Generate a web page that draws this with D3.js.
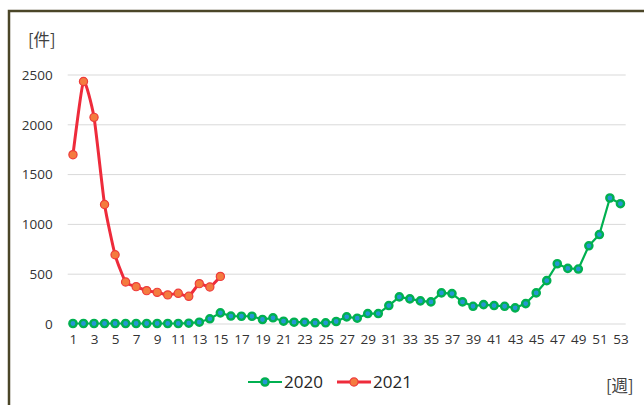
<!DOCTYPE html>
<html>
<head>
<meta charset="utf-8">
<script src="https://cdn.jsdelivr.net/npm/d3@7"></script>
<style>
  html, body { margin: 0; padding: 0; background: #fff; }
  svg { display: block; }
  text { font-family: "Open Sans", "Noto Sans CJK JP", sans-serif; }
</style>
</head>
<body>
<svg id="chart" width="644" height="405"></svg>
<script>
// Weekly case counts
const weeks = d3.range(1, 54);
const weekTicks = weeks.filter(w => w % 2 === 1);
const yTicks = [0, 500, 1000, 1500, 2000, 2500];

const cases2020 = [
  5, 5, 5, 5, 5, 5, 5, 5, 5, 5,
  5, 8, 18, 52, 112, 80, 78, 78, 45, 62,
  28, 18, 18, 12, 12, 25, 72, 58, 105, 105,
  185, 272, 252, 232, 222, 312, 305, 222, 178, 195,
  185, 178, 162, 205, 312, 435, 605, 558, 552, 785,
  898, 1265, 1208
];
const cases2021 = [
  1700, 2435, 2075, 1200, 695, 422, 375, 335, 318, 292,
  308, 278, 405, 372, 478
];

const seriesNames = ["2020", "2021"];
const yUnit = "[件]";
const xUnit = "[週]";

const svg = d3.select("#chart");
const W = 644, H = 405;

// outer frame (top and left edges visible)
svg.append("path")
  .attr("d", `M9,${H} V11 H${W}`)
  .attr("fill", "none")
  .attr("stroke", "#4b4628")
  .attr("stroke-width", 2.5);

const plot = { left: 67.7, right: 625.7, top: 75, bottom: 324 };

const x = d3.scalePoint()
  .domain(weeks)
  .range([plot.left, plot.right])
  .padding(0.5);

const y = d3.scaleLinear()
  .domain([0, 2500])
  .range([plot.bottom, plot.top]);

// gridlines
svg.append("g")
  .selectAll("line")
  .data(yTicks)
  .join("line")
  .attr("x1", plot.left)
  .attr("x2", plot.right)
  .attr("y1", d => y(d))
  .attr("y2", d => y(d))
  .attr("stroke", "#d9d9d9")
  .attr("stroke-width", 1);

// y axis labels
const yAxis = svg.append("g")
  .attr("transform", `translate(${plot.left - 15},0)`)
  .call(d3.axisLeft(y).tickValues(yTicks).tickSize(0).tickPadding(0).tickFormat(d3.format("d")));
yAxis.select(".domain").remove();
yAxis.selectAll("text")
  .attr("fill", "#333")
  .style("font-size", "13.5px")
  .style("font-family", "'Open Sans', sans-serif");

// x axis labels
const xAxis = svg.append("g")
  .attr("transform", `translate(0,${plot.bottom + 10})`)
  .call(d3.axisBottom(x).tickValues(weekTicks).tickSize(0).tickPadding(0));
xAxis.select(".domain").remove();
xAxis.selectAll("text")
  .attr("fill", "#333")
  .style("font-size", "13.5px")
  .style("font-family", "'Open Sans', sans-serif");

// unit labels
svg.append("text")
  .attr("x", 28).attr("y", 40)
  .attr("dy", "0.35em")
  .attr("fill", "#404040")
  .style("font-size", "16.5px")
  .style("font-family", "'Noto Sans CJK JP', sans-serif")
  .text(yUnit);

svg.append("text")
  .attr("x", 606).attr("y", 386)
  .attr("dy", "0.35em")
  .attr("fill", "#404040")
  .style("font-size", "16.5px")
  .style("font-family", "'Noto Sans CJK JP', sans-serif")
  .text(xUnit);

// 2020 series
const line2020 = d3.line()
  .x((d, i) => x(weeks[i]))
  .y(d => y(d));

svg.append("path")
  .datum(cases2020)
  .attr("d", line2020)
  .attr("fill", "none")
  .attr("stroke", "#00b050")
  .attr("stroke-width", 2.2)
  .attr("stroke-linejoin", "round");

svg.append("g")
  .selectAll("circle")
  .data(cases2020)
  .join("circle")
  .attr("cx", (d, i) => x(weeks[i]))
  .attr("cy", d => y(d))
  .attr("r", 3.6)
  .attr("fill", "#2596d4")
  .attr("stroke", "#00b050")
  .attr("stroke-width", 2.4);

// 2021 series (smoothed)
const line2021 = d3.line()
  .x((d, i) => x(weeks[i]))
  .y(d => y(d))
  .curve(d3.curveCardinal.tension(0.5));

svg.append("path")
  .datum(cases2021)
  .attr("d", line2021)
  .attr("fill", "none")
  .attr("stroke", "#ee2b3b")
  .attr("stroke-width", 3)
  .attr("stroke-linejoin", "round");

svg.append("g")
  .selectAll("circle")
  .data(cases2021)
  .join("circle")
  .attr("cx", (d, i) => x(weeks[i]))
  .attr("cy", d => y(d))
  .attr("r", 4.1)
  .attr("fill", "#f47b3f")
  .attr("stroke", "#ee3b3b")
  .attr("stroke-width", 1.2);

// legend
const legendItems = [
  { name: seriesNames[0], x0: 248, line: "#00b050", fill: "#2596d4", stroke: "#00b050", sw: 2.4, lw: 2.2, r: 3.6 },
  { name: seriesNames[1], x0: 337, line: "#ee2b3b", fill: "#f47b3f", stroke: "#ee3b3b", sw: 1.2, lw: 3, r: 4.1 }
];
const legend = svg.append("g").attr("transform", "translate(0,382)");
legendItems.forEach(it => {
  legend.append("line")
    .attr("x1", it.x0).attr("x2", it.x0 + 34)
    .attr("y1", 0).attr("y2", 0)
    .attr("stroke", it.line)
    .attr("stroke-width", it.lw);
  legend.append("circle")
    .attr("cx", it.x0 + 17).attr("cy", 0)
    .attr("r", it.r)
    .attr("fill", it.fill)
    .attr("stroke", it.stroke)
    .attr("stroke-width", it.sw);
  legend.append("text")
    .attr("x", it.x0 + 36).attr("y", 0)
    .attr("dy", "0.35em")
    .attr("fill", "#262626")
    .style("font-size", "17px")
    .text(it.name);
});
</script>
</body>
</html>
